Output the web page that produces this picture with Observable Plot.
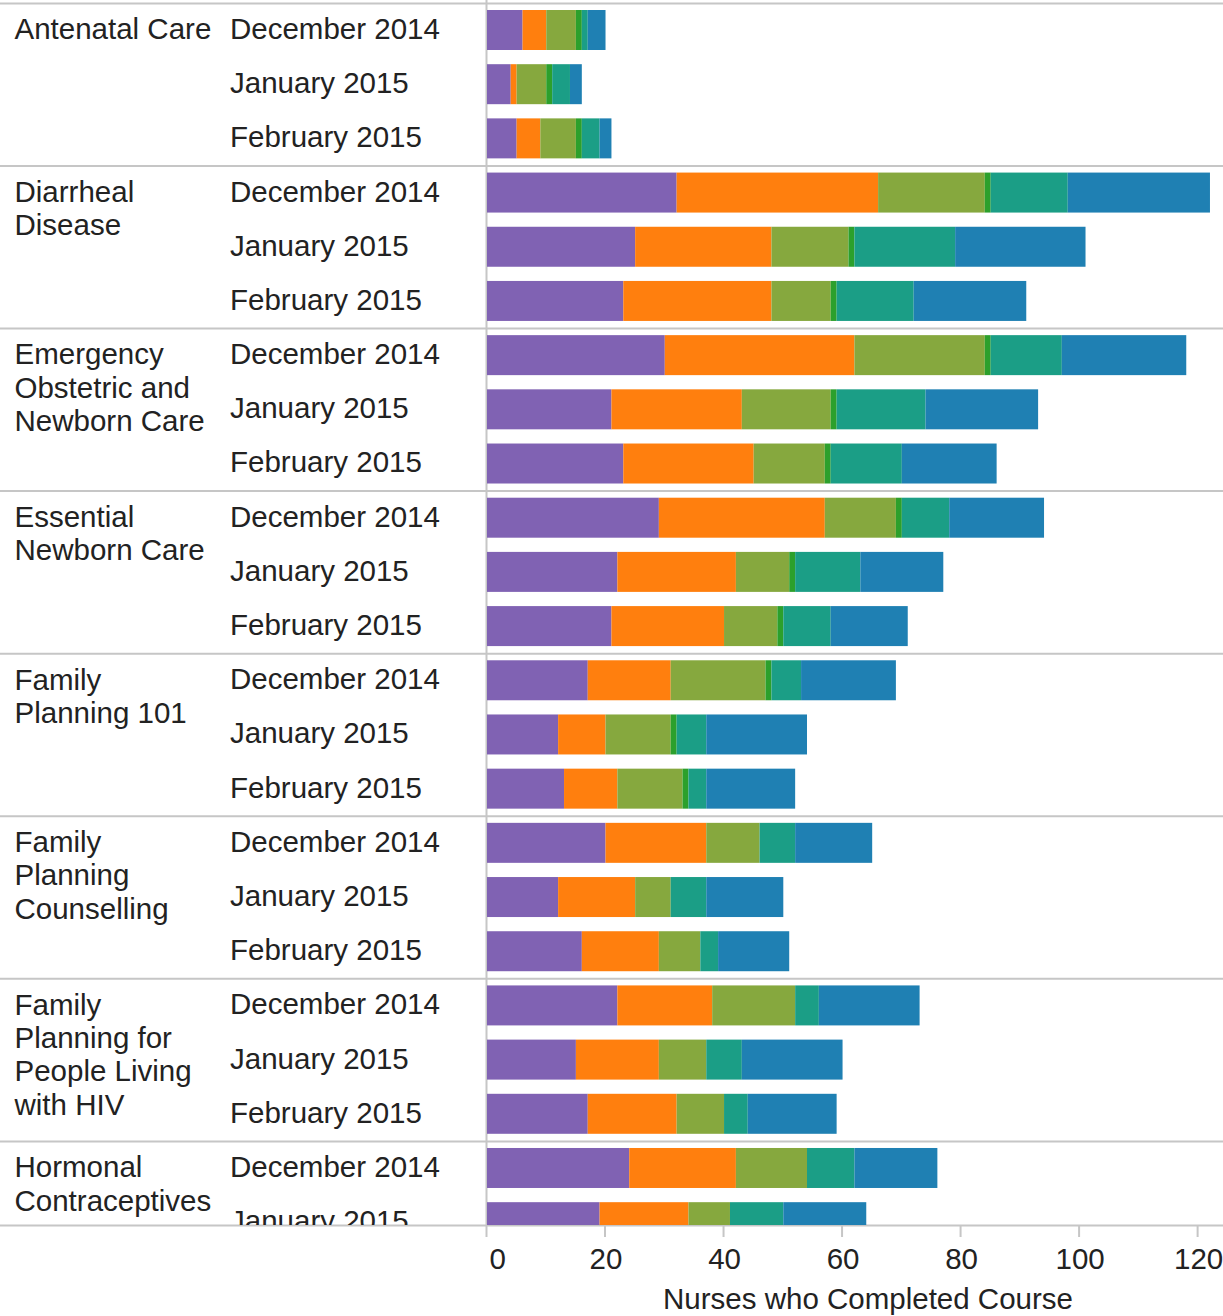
<!DOCTYPE html>
<html>
<head>
<meta charset="utf-8">
<script src="https://cdn.jsdelivr.net/npm/d3@7"></script>
<script src="https://cdn.jsdelivr.net/npm/@observablehq/plot@0.6"></script>
<style>
  html, body { margin: 0; padding: 0; background: #fff; }
  #chart svg { display: block; }
</style>
</head>
<body>
<div id="chart"></div>
<script>
// ---- Data ----
const courses = [
  "Antenatal Care", "Diarrheal Disease", "Emergency Obstetric and Newborn Care",
  "Essential Newborn Care", "Family Planning 101", "Family Planning Counselling",
  "Family Planning for People Living with HIV", "Hormonal Contraceptives"
];
const courseLabels = [
  "Antenatal Care", "Diarrheal\nDisease", "Emergency\nObstetric and\nNewborn Care",
  "Essential\nNewborn Care", "Family\nPlanning 101", "Family\nPlanning\nCounselling",
  "Family\nPlanning for\nPeople Living\nwith HIV", "Hormonal\nContraceptives"
];
const months = ["December 2014", "January 2015", "February 2015"];

const seriesNames = ["Series 1", "Series 2", "Series 3", "Series 4", "Series 5", "Series 6"];
const seriesColors = ["#8062b3", "#ff7f0e", "#86a83e", "#2ca02c", "#1b9e86", "#1f80b3"];

// one value per course/month row (rows in course order, months Dec, Jan, Feb)
const series1 = [6, 4, 5, 32, 25, 23, 30, 21, 23, 29, 22, 21, 17, 12, 13, 20, 12, 16, 22, 15, 17, 24, 19];
const series2 = [4, 1, 4, 34, 23, 25, 32, 22, 22, 28, 20, 19, 14, 8, 9, 17, 13, 13, 16, 14, 15, 18, 15];
const series3 = [5, 5, 6, 18, 13, 10, 22, 15, 12, 12, 9, 9, 16, 11, 11, 9, 6, 7, 14, 8, 8, 12, 7];
const series4 = [1, 1, 1, 1, 1, 1, 1, 1, 1, 1, 1, 1, 1, 1, 1, 0, 0, 0, 0, 0, 0, 0, 0];
const series5 = [1, 3, 3, 13, 17, 13, 12, 15, 12, 8, 11, 8, 5, 5, 3, 6, 6, 3, 4, 6, 4, 8, 9];
const series6 = [3, 2, 2, 24, 22, 19, 21, 19, 16, 16, 14, 13, 16, 17, 15, 13, 13, 12, 17, 17, 15, 14, 14];

const xTicks = [0, 20, 40, 60, 80, 100, 120];
const xTitle = "Nurses who Completed Course";

// ---- Build tables ----
const seriesValues = [series1, series2, series3, series4, series5, series6];
const rows = [];
const table = [];
courses.forEach((c, ci) => {
  months.forEach((m, mi) => {
    const i = ci * months.length + mi;
    if (i >= series1.length) return;
    const key = c + " | " + m;
    rows.push({key, course: c, month: m, first: mi === 0, label: courseLabels[ci]});
    seriesValues.forEach((vals, si) => table.push({row: key, series: seriesNames[si], value: vals[i]}));
  });
});
const firstRows = rows.filter(r => r.first);

// ---- Layout ----
const W = 1223, H = 1316;
const step = 54.19, top0 = 2.9;
const font = "'Liberation Sans', Arial, sans-serif";
const fs = 29.5;
const textColor = "#222";
const lineColor = "#c6c6c6";

const chart = Plot.plot({
  width: W,
  height: H,
  marginTop: 0,
  marginRight: 0,
  marginBottom: 91,
  marginLeft: 0,
  style: {fontFamily: font, fontSize: fs + "px", color: textColor, background: "#fff"},
  x: {domain: [0, 124.2], range: [487, W], axis: null, label: null},
  y: {
    domain: rows.map(r => r.key),
    range: [top0, top0 + step * rows.length],
    paddingInner: 0.262,
    paddingOuter: 0.131,
    round: false,
    axis: null,
    label: null
  },
  color: {domain: seriesNames, range: seriesColors},
  marks: [
    Plot.ruleY(firstRows, {y: "key", dy: -step / 2, stroke: lineColor, strokeWidth: 2, clip: true}),
    Plot.frame({anchor: "bottom", stroke: lineColor, strokeWidth: 2}),
    Plot.ruleX([0], {stroke: lineColor, strokeWidth: 2, dx: -1}),
    Plot.barX(table, {y: "row", x: "value", fill: "series", order: seriesNames, clip: true}),
    Plot.text(rows, {
      y: "key", text: "month", frameAnchor: "left", dx: 229.5, dy: -1,
      textAnchor: "start", fontSize: fs, fill: textColor, clip: true
    }),
    Plot.text(firstRows, {
      y: "key", text: "label", frameAnchor: "left", dx: 14, dy: -15,
      textAnchor: "start", lineAnchor: "top", lineHeight: 1.133,
      fontSize: fs, fill: textColor, clip: true
    }),
    // tick marks
    Plot.axisX(xTicks, {
      tickSize: 12, stroke: lineColor, strokeWidth: 2, dx: -1,
      tickFormat: () => "", label: null
    }),
    // tick labels
    Plot.axisX(xTicks.slice(1), {
      tickSize: 0, tickPadding: 23, fill: textColor, fontSize: fs, label: null
    }),
    Plot.axisX(xTicks.slice(0, 1), {
      tickSize: 0, tickPadding: 23, dx: 2, fill: textColor, fontSize: fs,
      textAnchor: "start", label: null
    }),
    Plot.text([xTitle], {
      frameAnchor: "bottom", dx: 256, dy: 83, fontSize: fs, fill: textColor
    })
  ]
});

document.getElementById("chart").appendChild(chart);
</script>
</body>
</html>
